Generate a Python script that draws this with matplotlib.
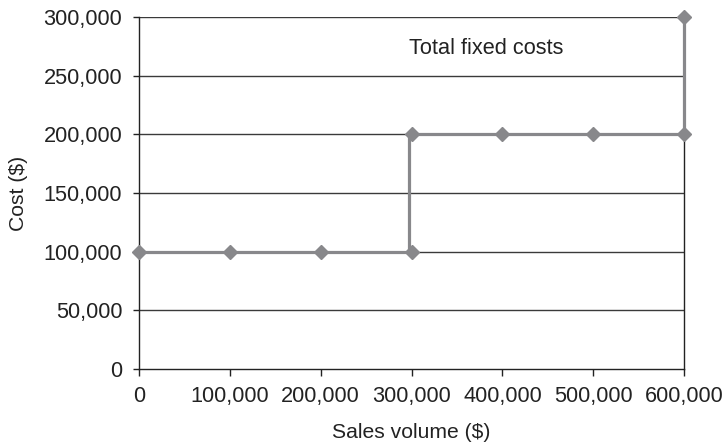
import matplotlib
matplotlib.use("Agg")
import matplotlib.pyplot as plt
from matplotlib.ticker import FuncFormatter

# marker points (sales volume, total fixed cost)
sales = [0, 100000, 200000, 300000, 300000, 400000, 500000, 600000, 600000]
costs = [100000, 100000, 100000, 100000, 200000, 200000, 200000, 200000, 300000]
# connecting step line as drawn in the original (jump slightly left of 300,000)
step_x = [0, 297000, 297000, 600000, 600000]
step_y = [100000, 100000, 200000, 200000, 300000]
yticks = [0, 50000, 100000, 150000, 200000, 250000, 300000]
xticks = [0, 100000, 200000, 300000, 400000, 500000, 600000]

plt.rcParams['font.family'] = ['Liberation Sans', 'DejaVu Sans']

fig = plt.figure(figsize=(7.23, 4.44), dpi=100)
ax = fig.add_axes([0.1923, 0.169, 0.754, 0.7927])

for y in yticks[1:]:
    ax.axhline(y, color='#3a3a3a', lw=1.0, zorder=1)

ax.plot(step_x, step_y, color='#88888b', lw=2.3, clip_on=False, zorder=3)
ax.plot(sales, costs, linestyle='none', marker='D', markersize=7.2,
        markerfacecolor='#88888b', markeredgecolor='#88888b', clip_on=False, zorder=4)

ax.set_xlim(0, 600000)
ax.set_ylim(0, 300000)
ax.set_xticks(xticks)
ax.set_yticks(yticks)
fmt = FuncFormatter(lambda v, p: f"{int(v):,}")
ax.xaxis.set_major_formatter(fmt)
ax.yaxis.set_major_formatter(fmt)
ax.tick_params(axis='both', direction='out', width=1, colors='#222222',
               labelsize=15.7, labelcolor='#222222')
ax.tick_params(axis='x', length=5, pad=7)
ax.tick_params(axis='y', length=4.5, pad=7.5)
ax.spines['top'].set_visible(False)
for s in ['left', 'bottom', 'right']:
    ax.spines[s].set_color('#222222')
    ax.spines[s].set_linewidth(1.0)

ax.set_xlabel('Sales volume ($)', fontsize=15.2, color='#222222', labelpad=12)
ax.set_ylabel('Cost ($)', fontsize=15.2, color='#222222', labelpad=11)
ax.text(297000, 273500, 'Total fixed costs', fontsize=15.7, color='#222222',
        ha='left', va='center')

fig.savefig('out.png', dpi=100)
